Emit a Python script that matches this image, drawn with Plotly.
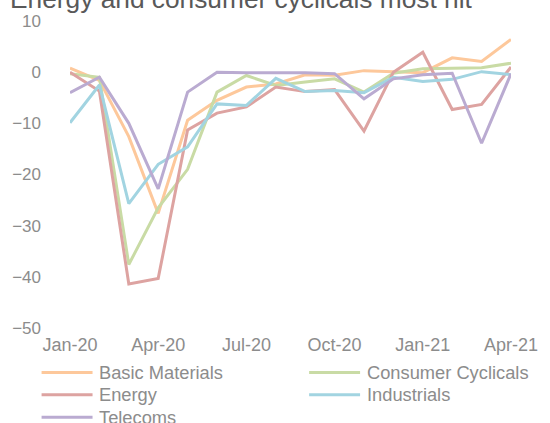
import plotly.graph_objects as go

months = ["Jan-20", "Feb-20", "Mar-20", "Apr-20", "May-20", "Jun-20", "Jul-20", "Aug-20",
          "Sep-20", "Oct-20", "Nov-20", "Dec-20", "Jan-21", "Feb-21", "Mar-21", "Apr-21"]
tick_labels = ["Jan-20", "Apr-20", "Jul-20", "Oct-20", "Jan-21", "Apr-21"]

basic_materials = [0.8, -1.6, -12.6, -27.6, -9.4, -5.5, -2.9, -2.3, -0.5, -0.6, 0.3, 0.1, -0.1, 2.8, 2.1, 6.4]
consumer_cyclicals = [-0.3, -1.0, -37.6, -26.5, -19.0, -3.9, -0.65, -2.6, -1.9, -1.3, -3.9, -0.2, 0.65, 0.8, 0.85, 1.75]
energy = [0.0, -3.7, -41.4, -40.3, -11.3, -8.0, -6.8, -2.9, -3.8, -3.4, -11.5, 0.0, 3.9, -7.3, -6.3, 1.0]
industrials = [-9.9, -2.5, -25.7, -18.0, -14.6, -6.2, -6.5, -1.2, -3.8, -3.6, -4.0, -1.0, -1.8, -1.4, 0.1, -0.5]
telecoms = [-4.0, -1.0, -10.0, -22.8, -3.9, 0.0, -0.1, -0.1, -0.1, -0.3, -5.2, -1.3, -0.5, -0.2, -13.9, -0.3]

series_names = ["Basic Materials", "Consumer Cyclicals", "Energy", "Industrials", "Telecoms"]
series_values = [basic_materials, consumer_cyclicals, energy, industrials, telecoms]
colors = ["#FDC89B", "#C9DBA5", "#DDA3A1", "#A2D4E1", "#BAABD1"]

title_text = "Energy and consumer cyclicals most hit"
TEXT = "#8C8C8C"

# plot area in pixels
L, R, T, B = 70, 30, 18, 95
W, H = 550, 423
pw, ph = W - L - R, H - T - B

def px_to_paper_x(px):
    return (px - L) / pw

def px_to_paper_y(py):
    return (H - B - py) / ph

fig = go.Figure()
for name, vals, col in zip(series_names, series_values, colors):
    fig.add_trace(go.Scatter(x=months, y=vals, mode="lines", name=name,
                             line=dict(color=col, width=3), showlegend=False))

# manual legend (two columns)
col_x = [(41, 93, 98), (314, 366, 371)]
row_y = [373, 395.5, 418]
shapes = []
annotations = []
for i, (name, col) in enumerate(zip(series_names, colors)):
    c = i % 2
    r = i // 2
    x0, x1, xt = col_x[c]
    y = row_y[r]
    shapes.append(dict(type="line", xref="paper", yref="paper",
                       x0=px_to_paper_x(x0), x1=px_to_paper_x(x1),
                       y0=px_to_paper_y(y), y1=px_to_paper_y(y),
                       line=dict(color=col, width=3)))
    annotations.append(dict(text=name, xref="paper", yref="paper",
                            x=px_to_paper_x(xt), y=px_to_paper_y(y),
                            xanchor="left", yanchor="middle", showarrow=False,
                            font=dict(size=18.3, color=TEXT, family="Liberation Sans, Arial, sans-serif")))

annotations.append(dict(text=title_text, xref="paper", yref="paper",
                        x=px_to_paper_x(7), y=px_to_paper_y(-4),
                        xanchor="left", yanchor="middle", showarrow=False,
                        font=dict(size=26.3, color="#595959", family="Liberation Sans, Arial, sans-serif")))

fig.update_layout(
    width=W, height=H,
    margin=dict(l=L, r=R, t=T, b=B),
    paper_bgcolor="white", plot_bgcolor="white",
    font=dict(family="Liberation Sans, Arial, sans-serif", color=TEXT),
    shapes=shapes, annotations=annotations,
    xaxis=dict(type="category", categoryorder="array", categoryarray=months,
               range=[0, len(months) - 1], tickmode="array", tickvals=tick_labels,
               ticktext=tick_labels, showgrid=False, zeroline=False, showline=False,
               ticks="", tickfont=dict(size=18, color=TEXT), ticklabelstandoff=4),
    yaxis=dict(range=[-50, 10], dtick=10, tick0=0, showgrid=False, zeroline=False,
               showline=False, ticks="", tickfont=dict(size=17, color=TEXT),
               ticklabelstandoff=28),
)

fig.write_html("out.html", config={"displayModeBar": False},
               post_script="document.body.style.margin='0';document.body.style.padding='0';"
                           "document.documentElement.style.overflow='hidden';document.body.style.overflow='hidden';")
